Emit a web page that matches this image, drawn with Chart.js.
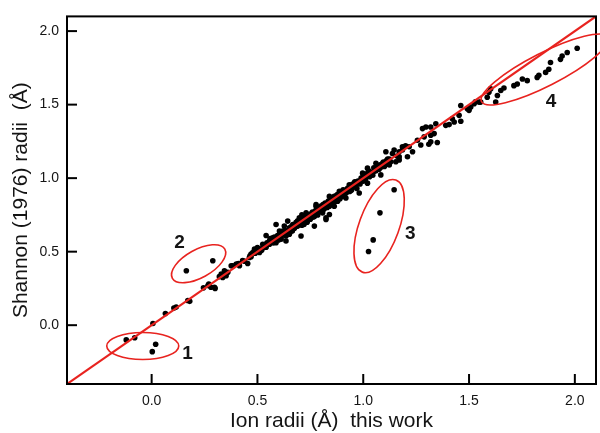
<!DOCTYPE html>
<html>
<head>
<meta charset="utf-8">
<script src="https://cdn.jsdelivr.net/npm/chart.js@4.4.1/dist/chart.umd.min.js"></script>
<style>
  html, body { margin: 0; padding: 0; background: #fff; }
</style>
</head>
<body>
<canvas id="chart" width="600" height="433"></canvas>
<script>
const axisMin = -0.4;
const axisMax = 2.1;
const xTickValues = [0, 0.5, 1.0, 1.5, 2.0];
const yTickValues = [0, 0.5, 1.0, 1.5, 2.0];
const xTitle = 'Ion radii (Å)  this work';
const yTitle = 'Shannon (1976) radii  (Å)';

// [this work, Shannon] radii pairs
const lowRadii = [
    [0.006,0.011],[0.065,0.079],[0.105,0.117],[0.116,0.123],[0.171,0.168],[0.18,0.162],
    [0.245,0.254],[0.266,0.27],[0.27,0.28],[0.28,0.258],[0.297,0.258],[0.30,0.25],
    [0.32,0.33],[0.329,0.348],[0.336,0.325],[0.34,0.345],[0.344,0.37],[0.35,0.35],
    [0.352,0.337],[0.36,0.36],[0.376,0.404],[0.384,0.404],[0.40,0.415],[0.41,0.42],
    [0.415,0.404],[0.43,0.44],[0.44,0.435],[0.454,0.42],[0.462,0.46],[0.465,0.472],
    [0.47,0.465],[0.47,0.483],[0.478,0.494],[0.486,0.517],[0.49,0.49]
];
const midRadii = [
    [0.50,0.505],[0.50,0.528],[0.51,0.494],[0.52,0.51],[0.525,0.528],[0.525,0.55],
    [0.533,0.528],[0.535,0.545],[0.541,0.61],[0.541,0.53],[0.545,0.56],[0.557,0.573],
    [0.557,0.55],[0.56,0.59],[0.565,0.57],[0.572,0.595],[0.575,0.56],[0.58,0.60],
    [0.585,0.575],[0.588,0.685],[0.588,0.561],[0.595,0.61],[0.60,0.58],[0.60,0.595],
    [0.604,0.618],[0.604,0.64],[0.612,0.584],[0.612,0.60],[0.615,0.63],[0.62,0.64],
    [0.625,0.62],[0.627,0.674],[0.63,0.645],[0.635,0.573],[0.635,0.607],[0.64,0.625],
    [0.643,0.708],[0.645,0.64],[0.651,0.618],[0.651,0.663],[0.655,0.65],[0.66,0.67],
    [0.665,0.64],[0.667,0.652],[0.667,0.685],[0.675,0.66],[0.68,0.69],[0.683,0.70],
    [0.685,0.675],[0.69,0.674],[0.69,0.71],[0.695,0.69],[0.698,0.73],[0.70,0.70],
    [0.70,0.685],[0.705,0.72],[0.706,0.607],[0.71,0.75],[0.71,0.68],[0.715,0.705],
    [0.72,0.685],[0.72,0.72],[0.725,0.74],[0.73,0.764],[0.73,0.715],[0.735,0.70],
    [0.74,0.75],[0.74,0.725],[0.745,0.73],[0.75,0.72],[0.75,0.745],[0.755,0.76],
    [0.76,0.77],[0.761,0.753],[0.765,0.735],[0.769,0.674],[0.77,0.74],[0.775,0.78],
    [0.777,0.809],[0.777,0.82],[0.78,0.77],[0.785,0.75],[0.785,0.795],[0.79,0.77],
    [0.792,0.797],[0.792,0.786]
];
const upperRadii = [
    [0.80,0.78],[0.80,0.81],[0.805,0.80],[0.808,0.764],[0.81,0.82],[0.81,0.795],
    [0.815,0.79],[0.82,0.83],[0.824,0.719],[0.824,0.73],[0.825,0.81],[0.83,0.80],
    [0.832,0.82],[0.835,0.845],[0.84,0.753],[0.84,0.809],[0.84,0.876],[0.845,0.83],
    [0.85,0.85],[0.85,0.835],[0.855,0.82],[0.855,0.865],[0.86,0.843],[0.863,0.809],
    [0.863,0.876],[0.865,0.85],[0.871,0.843],[0.871,0.86],[0.875,0.885],[0.879,0.843],
    [0.879,0.888],[0.88,0.865],[0.885,0.87],[0.887,0.91],[0.89,0.86],[0.895,0.90],
    [0.90,0.89],[0.90,0.875],[0.905,0.92],[0.91,0.88],[0.91,0.915],[0.915,0.895],
    [0.918,0.865],[0.92,0.90],[0.925,0.93],[0.93,0.935],[0.934,0.955],[0.935,0.91],
    [0.94,0.94],[0.94,0.915],[0.945,0.92],[0.95,0.96],[0.95,0.945],[0.955,0.94],
    [0.96,0.975],[0.96,0.955],[0.965,0.95],[0.97,0.93],[0.97,0.975],[0.975,0.98],
    [0.98,0.97],[0.981,0.899],[0.985,0.96],[0.99,1.00],[0.995,0.985],[0.997,1.034],
    [1.00,0.98],[1.00,1.02],[1.005,1.01],[1.01,0.99],[1.01,1.005],[1.015,1.03],
    [1.02,0.966],[1.02,1.068],[1.025,1.05],[1.03,1.01],[1.035,1.03],[1.04,1.04],
    [1.045,1.02],[1.05,1.07],[1.05,1.045],[1.06,1.101],[1.06,1.05],[1.065,1.075],
    [1.07,1.08],[1.075,1.06],[1.08,1.09],[1.083,1.022],[1.085,1.075],[1.09,1.10],
    [1.095,1.11],[1.10,1.08],[1.105,1.095],[1.107,1.18],[1.11,1.12],[1.115,1.13],
    [1.12,1.10],[1.123,1.09],[1.123,1.13],[1.13,1.112],[1.138,1.168],[1.146,1.191],
    [1.154,1.112],[1.16,1.15],[1.17,1.124],[1.17,1.146],[1.17,1.18],[1.185,1.191],
    [1.185,1.213],[1.20,1.22]
];
const topRadii = [
    [1.209,1.146],[1.217,1.213],[1.233,1.18],[1.256,1.258],[1.272,1.225],[1.28,1.337],
    [1.288,1.281],[1.296,1.348],[1.31,1.23],[1.319,1.348],[1.319,1.292],[1.319,1.247],
    [1.335,1.303],[1.343,1.37],[1.35,1.242],[1.39,1.359],[1.406,1.364],[1.421,1.404],
    [1.43,1.382],[1.453,1.427],[1.461,1.387],[1.461,1.494],[1.492,1.472],[1.50,1.461],
    [1.508,1.483],[1.524,1.506],[1.53,1.52],[1.547,1.517]
];
const group1 = [[-0.12,-0.10],[-0.08,-0.085],[0.003,-0.18],[0.019,-0.13]];
const group2 = [[0.164,0.37],[0.289,0.438]];
const group3 = [[1.025,0.501],[1.047,0.58],[1.079,0.764],[1.146,0.921]];
const group4 = [
    [1.555,1.517],[1.586,1.55],[1.594,1.584],[1.602,1.607],[1.626,1.517],[1.634,1.562],
    [1.65,1.596],[1.665,1.613],[1.712,1.629],[1.728,1.64],[1.752,1.674],[1.775,1.663],
    [1.822,1.685],[1.83,1.70],[1.862,1.719],[1.877,1.741],[1.885,1.786],[1.932,1.808],
    [1.94,1.831],[1.964,1.854],[2.011,1.883]
];
const groupNames = ['1', '2', '3', '4'];

// ellipse centres in data units, semi-axes in px, rotation in degrees
const ellipses = [
    { cx: -0.042, cy: -0.142, rx: 36, ry: 13.5, rot: 0 },
    { cx: 0.222, cy: 0.418, rx: 30, ry: 14, rot: -29 },
    { cx: 1.075, cy: 0.674, rx: 49, ry: 20, rot: -70 },
    { cx: 1.858, cy: 1.739, rx: 71, ry: 16.5, rot: -27 }
];
const labelSpots = [
    { x: 0.17, y: -0.196 },
    { x: 0.132, y: 0.56 },
    { x: 1.222, y: 0.62 },
    { x: 1.887, y: 1.517 }
];

const RED = '#e8231f';
const INK = '#141414';
const FONT = '"Liberation Sans", Arial, Helvetica, sans-serif';

const allPoints = [].concat(lowRadii, midRadii, upperRadii, topRadii, group1, group2, group3, group4)
    .map(p => ({ x: p[0], y: p[1] }));

const decorPlugin = {
    id: 'decor',
    afterDatasetsDraw(chart) {
        const { ctx, chartArea: a, scales: { x, y } } = chart;
        ctx.save();
        ctx.strokeStyle = '#000';
        ctx.lineWidth = 2;
        ctx.strokeRect(a.left, a.top, a.right - a.left, a.bottom - a.top);
        // inward tick marks
        x.ticks.forEach(t => {
            const px = x.getPixelForValue(t.value);
            ctx.beginPath();
            ctx.moveTo(px, a.bottom);
            ctx.lineTo(px, a.bottom - 10);
            ctx.stroke();
        });
        y.ticks.forEach(t => {
            const py = y.getPixelForValue(t.value);
            ctx.beginPath();
            ctx.moveTo(a.left, py);
            ctx.lineTo(a.left + 10, py);
            ctx.stroke();
        });
        // group ellipses
        ctx.strokeStyle = RED;
        ctx.lineWidth = 1.6;
        ellipses.forEach(e => {
            ctx.beginPath();
            ctx.ellipse(x.getPixelForValue(e.cx), y.getPixelForValue(e.cy),
                e.rx, e.ry, e.rot * Math.PI / 180, 0, Math.PI * 2);
            ctx.stroke();
        });
        // group labels
        ctx.fillStyle = INK;
        ctx.font = 'bold 19px ' + FONT;
        ctx.textAlign = 'center';
        ctx.textBaseline = 'middle';
        groupNames.forEach((name, i) => {
            const s = labelSpots[i];
            ctx.fillText(name, x.getPixelForValue(s.x), y.getPixelForValue(s.y));
        });
        ctx.restore();
    }
};

const ctx = document.getElementById('chart').getContext('2d');
new Chart(ctx, {
    type: 'scatter',
    data: {
        datasets: [{
            type: 'line',
            label: 'y = x',
            data: [{ x: axisMin, y: axisMin }, { x: axisMax, y: axisMax }],
            borderColor: RED,
            borderWidth: 2.2,
            pointRadius: 0,
            fill: false,
            order: 0
        }, {
            label: 'radii',
            data: allPoints,
            backgroundColor: '#000',
            borderWidth: 0,
            pointRadius: 2.8,
            order: 1
        }]
    },
    options: {
        responsive: false,
        animation: false,
        devicePixelRatio: 1,
        layout: { padding: { top: 13, right: 3, left: 0, bottom: 0 } },
        plugins: {
            legend: { display: false },
            tooltip: { enabled: false }
        },
        scales: {
            x: {
                type: 'linear',
                min: axisMin,
                max: axisMax,
                afterBuildTicks: s => { s.ticks = xTickValues.map(v => ({ value: v })); },
                afterFit: s => { s.height = 49; },
                grid: { display: false, drawTicks: false },
                border: { display: false },
                ticks: {
                    callback: v => v.toFixed(1),
                    font: { size: 14, family: FONT },
                    color: INK,
                    padding: 9,
                    maxRotation: 0,
                    autoSkip: false
                },
                title: {
                    display: true,
                    text: xTitle,
                    color: INK,
                    font: { size: 21, family: FONT, lineHeight: 1 },
                    padding: { top: 0, bottom: 1.5 }
                }
            },
            y: {
                type: 'linear',
                min: axisMin,
                max: axisMax,
                afterBuildTicks: s => { s.ticks = yTickValues.map(v => ({ value: v })); },
                afterFit: s => { s.width = 67; },
                grid: { display: false, drawTicks: false },
                border: { display: false },
                ticks: {
                    callback: v => v.toFixed(1),
                    font: { size: 14, family: FONT },
                    color: INK,
                    padding: 8,
                    autoSkip: false
                },
                title: {
                    display: true,
                    text: yTitle,
                    color: INK,
                    font: { size: 21, family: FONT, lineHeight: 1 },
                    padding: { top: 11, bottom: 0 }
                }
            }
        }
    },
    plugins: [decorPlugin]
});
</script>
</body>
</html>
